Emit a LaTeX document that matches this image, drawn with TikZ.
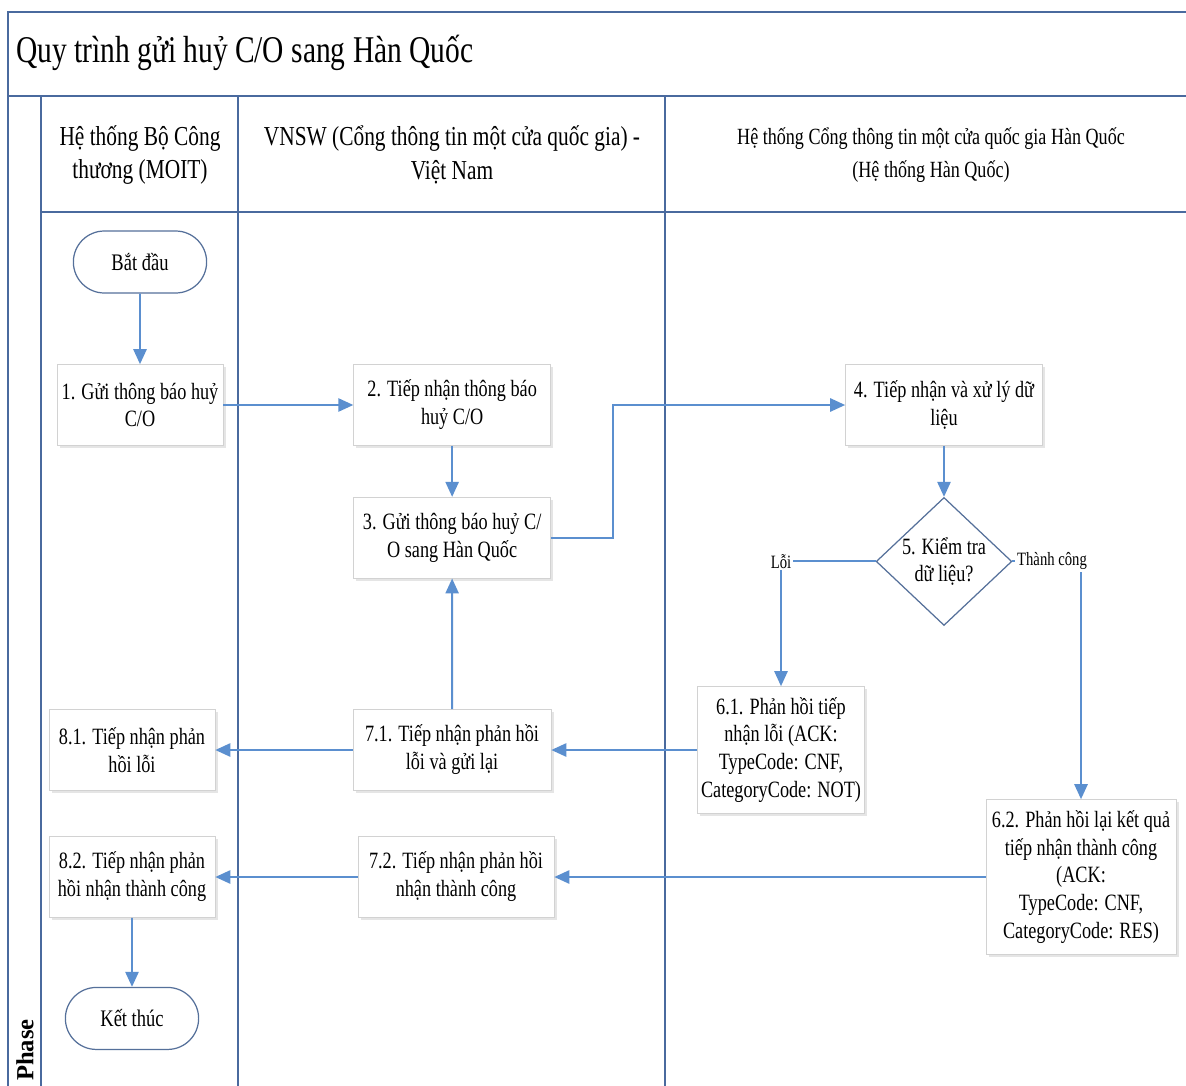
\documentclass[tikz,border=0pt]{standalone}
\usepackage{fontspec}
\setmainfont{Liberation Serif}[FakeStretch=0.78]
\newfontfamily\phasefont{Liberation Serif}
\usetikzlibrary{shapes.geometric,shapes.misc,shadows,arrows.meta,positioning}

\definecolor{lanecol}{HTML}{4A6A9E}
\definecolor{flowcol}{HTML}{5B8FCF}
\definecolor{boxcol}{HTML}{D2D2D2}
\definecolor{termcol}{HTML}{55709A}

\tikzset{
  lane/.style={draw=lanecol, line width=0.9pt},
  procbox/.style={rectangle, draw=boxcol, fill=white, align=center,
    drop shadow={shadow xshift=1.5pt, shadow yshift=-1.5pt, opacity=0.2},
    minimum height=1.62cm, inner sep=2pt,
    font=\fontsize{13.3pt}{15.9pt}\selectfont},
  termbox/.style={rounded rectangle, draw=termcol, fill=white, line width=0.7pt,
    minimum width=2.9cm, minimum height=1.24cm,
    font=\fontsize{13.5pt}{16pt}\selectfont},
  decision/.style={diamond, draw=termcol, fill=white, line width=0.7pt,
    aspect=1.06, inner sep=0pt, minimum width=2.68cm, minimum height=2.52cm,
    align=center, font=\fontsize{13.3pt}{15.9pt}\selectfont},
  flow/.style={draw=flowcol, line width=1.1pt, ->,
    >={Triangle[length=8.5pt,width=7.5pt]}},
  lbl/.style={fill=white, inner sep=1pt, font=\fontsize{10.7pt}{12pt}\selectfont}
}

\begin{document}
\begin{tikzpicture}[x=0.02cm, y=-0.02cm]
 \useasboundingbox[fill=white] (0,0) rectangle (1186,1085);

 % Pool and lanes
 \draw[lane] (1186,12) -- (8,12) -- (8,1090);
 \draw[lane] (8,96) -- (1186,96);
 \draw[lane] (41,96) -- (41,1090);
 \draw[lane] (41,212) -- (1186,212);
 \draw[lane] (238,96) -- (238,1090);
 \draw[lane] (665,96) -- (665,1090);

 % Titles
 \node[anchor=west, font=\fontsize{21.5pt}{26pt}\selectfont] (title) at (10,53)
     {Quy trình gửi huỷ C/O sang Hàn Quốc};
 \node[align=center, font=\fontsize{15.6pt}{19.3pt}\selectfont] (h1) at (140,155)
     {Hệ thống Bộ Công\\thương (MOIT)};
 \node[align=center, font=\fontsize{15.6pt}{19.3pt}\selectfont] (h2) at (452,155)
     {VNSW (Cổng thông tin một cửa quốc gia) -\\Việt Nam};
 \node[align=center, font=\fontsize{13.2pt}{18.8pt}\selectfont] (h3) at (931,155)
     {Hệ thống Cổng thông tin một cửa quốc gia Hàn Quốc\\(Hệ thống Hàn Quốc)};
 \node[rotate=90, anchor=west, font=\phasefont\bfseries\fontsize{14pt}{16pt}\selectfont]
     (phase) at (25,1087) {Phase};

 % Add the steps
 \node[termbox] (start) at (140,262) {Bắt đầu};
 \node[procbox, minimum width=3.32cm] (b1) at (140,405) {1. Gửi thông báo huỷ\\C/O};
 \node[procbox, minimum width=3.94cm,
       right=2.6cm of b1] (b2) {2. Tiếp nhận thông báo\\huỷ C/O};
 \node[procbox, minimum width=3.94cm,
       below=1.02cm of b2] (b3) {3. Gửi thông báo huỷ C/\\O sang Hàn Quốc};
 \node[procbox, minimum width=3.94cm] (b4) at (944,405) {4. Tiếp nhận và xử lý dữ\\liệu};
 \node[decision,
       below=1.02cm of b4] (dia) {5. Kiểm tra\\dữ liệu?};
 \node[procbox, minimum width=3.32cm, minimum height=2.54cm] (b61) at (781,750)
     {6.1. Phản hồi tiếp\\nhận lỗi (ACK:\\TypeCode: CNF,\\CategoryCode: NOT)};
 \node[procbox, minimum width=3.8cm, minimum height=3.1cm] (b62) at (1081,877)
     {6.2. Phản hồi lại kết quả\\tiếp nhận thành công\\(ACK:\\TypeCode: CNF,\\CategoryCode: RES)};
 \node[procbox, minimum width=3.96cm] (b71) at (452,750) {7.1. Tiếp nhận phản hồi\\lỗi và gửi lại};
 \node[procbox, minimum width=3.92cm] (b72) at (456,877) {7.2. Tiếp nhận phản hồi\\nhận thành công};
 \node[procbox, minimum width=3.32cm] (b81) at (132,750) {8.1. Tiếp nhận phản\\hồi lỗi};
 \node[procbox, minimum width=3.32cm] (b82) at (132,877) {8.2. Tiếp nhận phản\\hồi nhận thành công};
 \node[termbox,
       below=1.38cm of b82] (stop) {Kết thúc};

 % Connect the steps with arrows
 \draw[flow] (start) -- (b1);
 \draw[flow] (b1) -- (b2);
 \draw[flow] (b2) -- (b3);
 \draw[flow] (b3.east) -- ++(62,0) |- (b4.west);
 \draw[flow] (b4) -- (dia);
 \draw[flow] (dia.west) -| node[lbl, pos=0.5] {Lỗi} (b61.north);
 \draw[flow] (dia.east) -| node[lbl, pos=0.5, xshift=-0.58cm] {Thành công} (b62.north);
 \draw[flow] (b61) -- (b71);
 \draw[flow] (b71) -- (b3);
 \draw[flow] (b71) -- (b81);
 \draw[flow] (b62) -- (b72);
 \draw[flow] (b72) -- (b82);
 \draw[flow] (b82) -- (stop);
\end{tikzpicture}
\end{document}
